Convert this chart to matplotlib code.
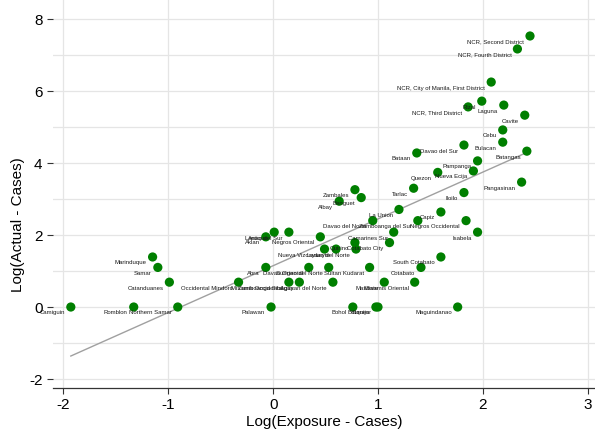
import numpy as np
import matplotlib.pyplot as plt

plt.rcParams['font.family'] = ['Liberation Sans', 'DejaVu Sans']
plt.rcParams['axes.unicode_minus'] = False

# Province / district names with log exposure cases (x) and log actual cases (y)
names = [
    'NCR, Second District', 'NCR, Fourth District', 'NCR, City of Manila, First District',
    'NCR, Third District', 'Rizal', 'Laguna', 'Cavite', 'Cebu', 'Bulacan', 'Davao del Sur',
    'Bataan', 'Batangas', 'Pampanga', 'Nueva Ecija', 'Quezon', 'Tarlac', 'Iloilo',
    'Pangasinan', 'Zambales', 'Benguet', 'Albay', 'La Union', 'Capiz', 'Davao del Norte',
    'Zamboanga del Sur', 'Negros Occidental', 'Isabela', 'Camarines Sur', 'Cotabato City',
    'Lanao del Sur', 'Aklan', 'Antique', 'Negros Oriental', 'Quirino', 'Lanao del Norte',
    'Nueva Vizcaya', 'Leyte', 'Abra', 'Davao Oriental', 'Surigao del Norte', 'Sultan Kudarat',
    'Occidental Mindoro', 'Misamis Occidental', 'Zamboanga Sibugay', 'Agusan del Norte',
    'Masbate', 'Misamis Oriental', 'Cotabato', 'South Cotabato', 'Maguindanao',
    'Marinduque', 'Samar', 'Catanduanes', 'Camiguin', 'Romblon', 'Northern Samar',
    'Palawan', 'Bohol', 'Batanes', 'Siquijor',
]
log_exposure = [
    2.45, 2.33, 2.08,
    1.86, 1.99, 2.20, 2.40, 2.19, 2.19, 1.82,
    1.37, 2.42, 1.95, 1.91, 1.57, 1.34, 1.82,
    2.37, 0.78, 0.84, 0.63, 1.20, 1.60, 0.95,
    1.38, 1.84, 1.95, 1.15, 1.11,
    0.15, -0.07, 0.01, 0.45, 0.78, 0.79,
    0.49, 0.60, -0.07, 0.34, 0.53, 0.92,
    -0.33, 0.15, 0.25, 0.57,
    1.06, 1.35, 1.41, 1.60, 1.76,
    -1.15, -1.10, -0.99, -1.93, -1.33, -0.91,
    -0.02, 0.76, 0.98, 1.00,
]
log_actual = [
    7.53, 7.17, 6.25,
    5.56, 5.72, 5.61, 5.33, 4.92, 4.58, 4.50,
    4.28, 4.33, 4.06, 3.78, 3.74, 3.30, 3.18,
    3.47, 3.26, 3.04, 2.94, 2.71, 2.64, 2.40,
    2.40, 2.40, 2.08, 2.08, 1.79,
    2.08, 1.95, 2.08, 1.95, 1.79, 1.61,
    1.61, 1.61, 1.10, 1.10, 1.10, 1.10,
    0.69, 0.69, 0.69, 0.69,
    0.69, 0.69, 1.10, 1.39, 0.00,
    1.39, 1.10, 0.69, 0.00, 0.00, 0.00,
    0.00, 0.00, 0.00, 0.00,
]

x = np.array(log_exposure)
y = np.array(log_actual)

fig = plt.figure(figsize=(5.95, 4.34), dpi=100)
ax = fig.add_axes([53 / 595, 46 / 434, 542 / 595, 388 / 434])

# linear fit over the range of the data
slope, intercept = np.polyfit(x, y, 1)
xf = np.array([x.min(), x.max()])
ax.plot(xf, intercept + slope * xf, color='#a0a0a0', lw=1.0, zorder=2)

ax.scatter(x, y, s=44, color='#007f00', edgecolors='none', zorder=3)
for name, xi, yi in zip(names, x, y):
    ax.annotate(name, (xi, yi), xytext=(-4.3, -4.3), textcoords='offset points',
                ha='right', va='center', fontsize=4.3, color='#1a1a1a', zorder=4)

ax.set_xlim(-2.10, 3.07)
ax.set_ylim(-2.25, 8.53)
ax.set_xticks([-2, -1, 0, 1, 2, 3])
ax.set_yticks([-2, 0, 2, 4, 6, 8])
ax.set_yticks(np.arange(-2, 9, 1), minor=True)
ax.grid(True, which='both', color='#e5e5e5', lw=0.9)
ax.set_axisbelow(True)
ax.tick_params(axis='y', which='minor', length=0)
ax.tick_params(axis='both', which='major', labelsize=11, length=4, width=0.8,
               color='#333333')

for side in ['top', 'right', 'left']:
    ax.spines[side].set_visible(False)
ax.spines['bottom'].set_color('#333333')
ax.spines['bottom'].set_linewidth(0.9)

ax.set_xlabel('Log(Exposure - Cases)', fontsize=11, labelpad=2)
fig.text(18 / 595, 1 - 225 / 434, 'Log(Actual - Cases)', rotation=90,
         ha='center', va='center', fontsize=11)

fig.savefig('out.png', dpi=100)
